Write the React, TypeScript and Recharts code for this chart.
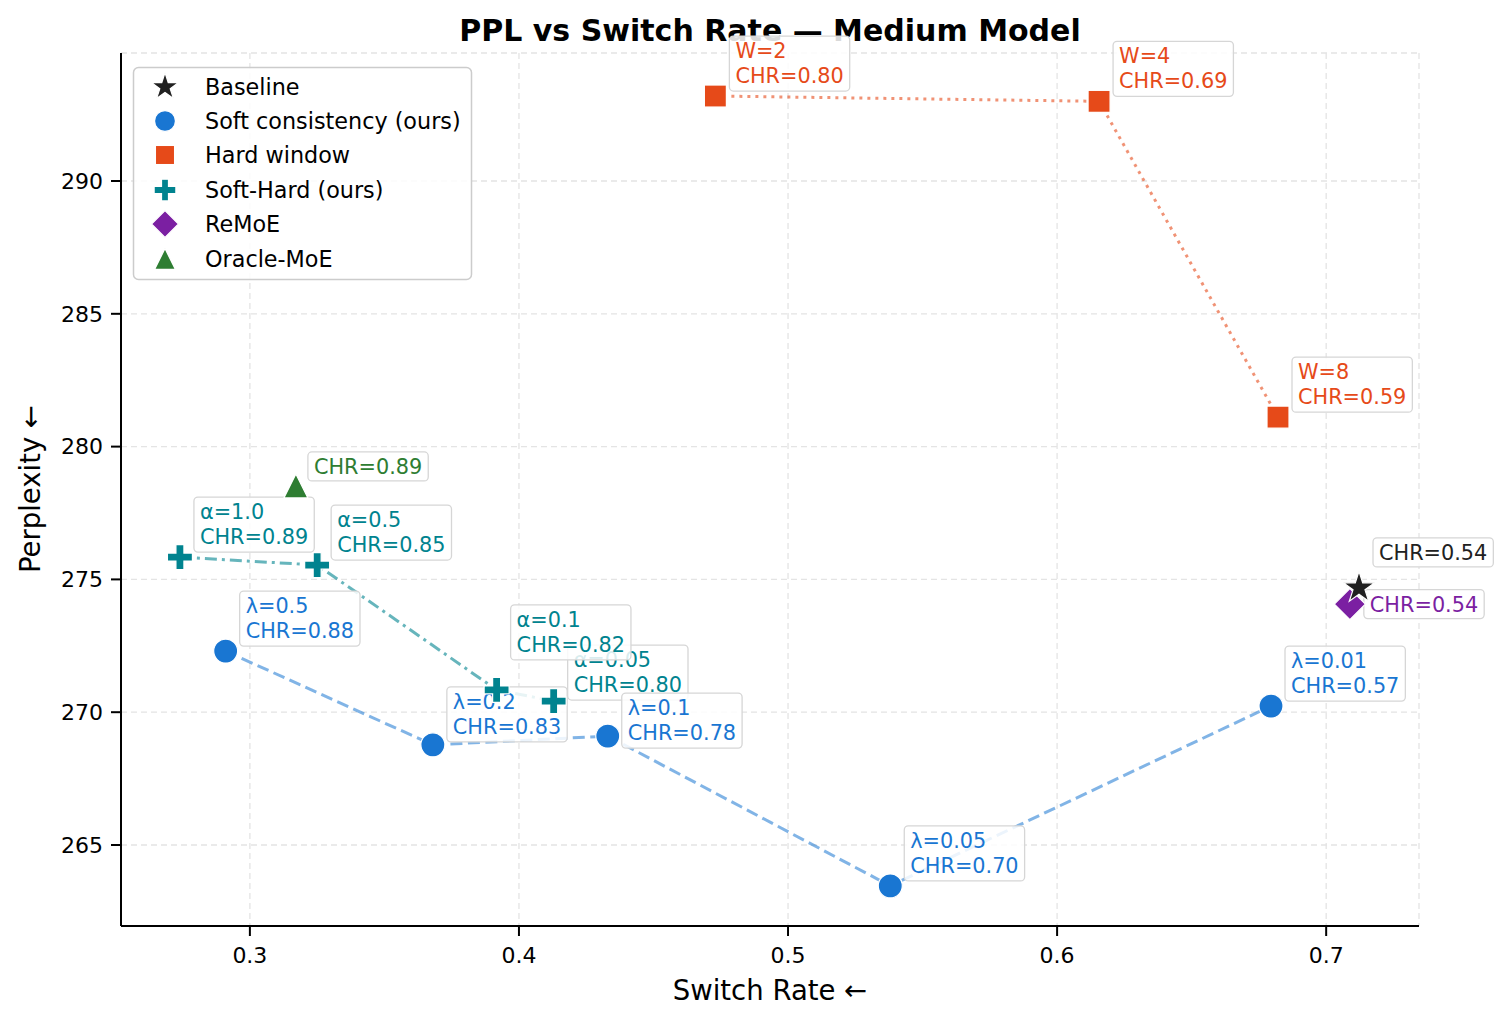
import React from 'react';
import { ScatterChart, Scatter, XAxis, YAxis, CartesianGrid } from 'recharts';

// ---------- data ----------
const softX = [0.291, 0.368, 0.433, 0.538, 0.6795];
const softY = [272.3, 268.77, 269.1, 263.46, 270.23];
const softLambda = ['0.5', '0.2', '0.1', '0.05', '0.01'];
const softCHR = ['0.88', '0.83', '0.78', '0.70', '0.57'];

const hardX = [0.473, 0.6156, 0.6821];
const hardY = [293.2, 293.0, 281.11];
const hardW = ['2', '4', '8'];
const hardCHR = ['0.80', '0.69', '0.59'];

const shX = [0.274, 0.325, 0.3917, 0.4129];
const shY = [275.84, 275.54, 270.84, 270.42];
const shAlpha = ['1.0', '0.5', '0.1', '0.05'];
const shCHR = ['0.89', '0.85', '0.82', '0.80'];

const baseX = [0.7122];
const baseY = [274.68];
const baseCHR = ['0.54'];

const remoeX = [0.7088];
const remoeY = [274.07];
const remoeCHR = ['0.54'];

const oracleX = [0.3171];
const oracleY = [278.52];
const oracleCHR = ['0.89'];

const xTicks = [0.3, 0.4, 0.5, 0.6, 0.7];
const yTicks = [265, 270, 275, 280, 285, 290];
const xDomain = [0.2521, 0.7345];
const yDomain = [261.95, 294.82];

const legendItems = ['Baseline', 'Soft consistency (ours)', 'Hard window', 'Soft-Hard (ours)', 'ReMoE', 'Oracle-MoE'];

// ---------- styles ----------
const FONT = '"DejaVu Sans", sans-serif';
const C_BLUE = '#1976D2';
const C_ORANGE = '#E64A19';
const C_TEAL = '#00838F';
const C_PURPLE = '#7B1FA2';
const C_GREEN = '#2E7D32';
const C_BLACK = '#212121';

// vertical offsets (px) of individual annotation boxes (layout only)
const labelDy: Record<string, number> = {
  'α=0.1': -30,
  'α=0.05': -1,
  'λ=0.1': 12,
  'λ=0.2': -3,
};

const softData = softX.map((x, i) => ({ x, y: softY[i], lines: [`λ=${softLambda[i]}`, `CHR=${softCHR[i]}`] }));
const hardData = hardX.map((x, i) => ({ x, y: hardY[i], lines: [`W=${hardW[i]}`, `CHR=${hardCHR[i]}`] }));
const shData = shX.map((x, i) => ({ x, y: shY[i], lines: [`α=${shAlpha[i]}`, `CHR=${shCHR[i]}`] }));
const baseData = baseX.map((x, i) => ({ x, y: baseY[i], lines: [`CHR=${baseCHR[i]}`] }));
const remoeData = remoeX.map((x, i) => ({ x, y: remoeY[i], lines: [`CHR=${remoeCHR[i]}`] }));
const oracleData = oracleX.map((x, i) => ({ x, y: oracleY[i], lines: [`CHR=${oracleCHR[i]}`] }));

let _ctx: any = null;
function measure(s: string, size: number) {
  if (!_ctx && typeof document !== 'undefined') _ctx = document.createElement('canvas').getContext('2d');
  if (!_ctx) return s.length * size * 0.62;
  _ctx.font = `${size}px "DejaVu Sans"`;
  return _ctx.measureText(s).width;
}

// ---------- marker shapes ----------
function starPath(cx: number, cy: number, R: number) {
  const r = R * 0.381966;
  let d = '';
  for (let i = 0; i < 10; i++) {
    const a = -Math.PI / 2 + (i * Math.PI) / 5;
    const rad = i % 2 === 0 ? R : r;
    d += (i ? 'L' : 'M') + (cx + rad * Math.cos(a)).toFixed(2) + ',' + (cy + rad * Math.sin(a)).toFixed(2);
  }
  return d + 'Z';
}
function plusPath(cx: number, cy: number, a: number, t: number) {
  return `M${cx - t},${cy - a}H${cx + t}V${cy - t}H${cx + a}V${cy + t}H${cx + t}V${cy + a}H${cx - t}V${cy + t}H${cx - a}V${cy - t}H${cx - t}Z`;
}

const Marker = ({ kind, cx, cy, s = 1 }: any) => {
  const edge = { stroke: '#fff', strokeWidth: 1.2 };
  switch (kind) {
    case 'star':
      return <path d={starPath(cx, cy, 16.5 * s)} fill={C_BLACK} {...edge} />;
    case 'circle':
      return <circle cx={cx} cy={cy} r={12 * s} fill={C_BLUE} {...edge} />;
    case 'square':
      return <rect x={cx - 11 * s} y={cy - 11 * s} width={22 * s} height={22 * s} fill={C_ORANGE} {...edge} />;
    case 'plus':
      return <path d={plusPath(cx, cy, 12.5 * s, 4 * s)} fill={C_TEAL} {...edge} />;
    case 'diamond': {
      const h = 15.5 * s;
      return <path d={`M${cx},${cy - h}L${cx + h},${cy}L${cx},${cy + h}L${cx - h},${cy}Z`} fill={C_PURPLE} {...edge} />;
    }
    case 'triangle': {
      const h = 12 * s;
      return <path d={`M${cx},${cy - h}L${cx + h},${cy + h}L${cx - h},${cy + h}Z`} fill={C_GREEN} {...edge} />;
    }
  }
  return <g />;
};

// ---------- annotation box ----------
const LabelBox = ({ cx, cy, lines, color, dx = 14, dy = -5, center = false }: any) => {
  const fs = 20.8;
  const pad = 6;
  const w = Math.max(...lines.map((l: string) => measure(l, fs))) + pad * 2;
  const h = 26 * lines.length + 3;
  const ddy = labelDy[lines[0]] !== undefined ? labelDy[lines[0]] : dy;
  const x = cx + dx;
  const y = center ? cy - h / 2 : cy + ddy - h;
  return (
    <g>
      <rect x={x} y={y} width={w} height={h} rx={4} ry={4} fill="#fff" fillOpacity={0.85} stroke="#d6d6d6" strokeWidth={1.3} />
      {lines.map((l: string, i: number) => (
        <text key={i} x={x + pad} y={y + 22 + i * 25} fill={color} fontSize={fs} fontFamily={FONT}>
          {l}
        </text>
      ))}
    </g>
  );
};

const noShape = () => <g />;

const mkLabel = (color: string, opts: any = {}) => (p: any) => (
  <LabelBox cx={p.cx} cy={p.cy} lines={p.payload.lines} color={color} {...opts} />
);
const mkMarker = (kind: string) => (p: any) => <Marker kind={kind} cx={p.cx} cy={p.cy} />;

const Legend = () => {
  const kinds = ['star', 'circle', 'square', 'plus', 'diamond', 'triangle'];
  const ys = [87, 121, 155, 190, 224, 259];
  return (
    <g>
      <rect x={133.5} y={67.5} width={338} height={212} rx={5} ry={5} fill="#fff" fillOpacity={0.85} stroke="#cccccc" strokeWidth={1.5} />
      {legendItems.map((t, i) => (
        <g key={t}>
          <Marker kind={kinds[i]} cx={165} cy={ys[i]} s={0.87} />
          <text x={205} y={ys[i] + 8} fontSize={22.3} fontFamily={FONT} fill="#000">
            {t}
          </text>
        </g>
      ))}
    </g>
  );
};

export default function App() {
  const tickStyle = { fontSize: 22, fontFamily: FONT, fill: '#000' };
  return (
    <div style={{ position: 'absolute', left: 0, top: 0, width: 1509, height: 1023, background: '#fff' }}>
      <ScatterChart width={1509} height={1023} margin={{ top: 53, right: 90, bottom: 47, left: 61 }}>
        <CartesianGrid stroke="#e4e4e4" strokeDasharray="6 4" strokeWidth={1.3} />
        <XAxis
          type="number"
          dataKey="x"
          domain={xDomain}
          ticks={xTicks}
          height={50}
          tick={tickStyle}
          tickFormatter={(v: number) => String(v)}
          tickSize={10}
          tickMargin={11}
          axisLine={{ stroke: '#000', strokeWidth: 2 }}
          tickLine={{ stroke: '#000', strokeWidth: 2 }}
          label={() => (
            <text x={770} y={1000} textAnchor="middle" fontSize={27.5} fontFamily={FONT} fill="#000">
              Switch Rate ←
            </text>
          )}
        />
        <YAxis
          type="number"
          dataKey="y"
          domain={yDomain}
          ticks={yTicks}
          width={60}
          tick={tickStyle}
          tickSize={10}
          tickMargin={8}
          axisLine={{ stroke: '#000', strokeWidth: 2 }}
          tickLine={{ stroke: '#000', strokeWidth: 2 }}
          label={() => (
            <text x={40} y={489} transform="rotate(-90 40 489)" textAnchor="middle" fontSize={27.5} fontFamily={FONT} fill="#000">
              Perplexity ←
            </text>
          )}
        />

        {/* connecting lines */}
        <Scatter data={softData} dataKey="y" isAnimationActive={false} shape={noShape}
          line={{ stroke: C_BLUE, strokeOpacity: 0.55, strokeWidth: 3, strokeDasharray: '12 5.5' }} />
        <Scatter data={hardData} dataKey="y" isAnimationActive={false} shape={noShape}
          line={{ stroke: C_ORANGE, strokeOpacity: 0.6, strokeWidth: 3, strokeDasharray: '3 5' }} />
        <Scatter data={shData} dataKey="y" isAnimationActive={false} shape={noShape}
          line={{ stroke: C_TEAL, strokeOpacity: 0.6, strokeWidth: 3, strokeDasharray: '12 5 3 5' }} />

        {/* annotation boxes */}
        <Scatter data={shData.slice().reverse()} dataKey="y" isAnimationActive={false} shape={mkLabel(C_TEAL)} />
        <Scatter data={softData} dataKey="y" isAnimationActive={false} shape={mkLabel(C_BLUE)} />
        <Scatter data={hardData} dataKey="y" isAnimationActive={false} shape={mkLabel(C_ORANGE)} />
        <Scatter data={oracleData} dataKey="y" isAnimationActive={false} shape={mkLabel(C_GREEN, { dx: 12 })} />
        <Scatter data={baseData} dataKey="y" isAnimationActive={false} shape={mkLabel(C_BLACK, { dy: -21 })} />
        <Scatter data={remoeData} dataKey="y" isAnimationActive={false} shape={mkLabel(C_PURPLE, { center: true })} />

        {/* markers */}
        <Scatter data={oracleData} dataKey="y" isAnimationActive={false} shape={mkMarker('triangle')} />
        <Scatter data={softData} dataKey="y" isAnimationActive={false} shape={mkMarker('circle')} />
        <Scatter data={shData} dataKey="y" isAnimationActive={false} shape={mkMarker('plus')} />
        <Scatter data={hardData} dataKey="y" isAnimationActive={false} shape={mkMarker('square')} />
        <Scatter data={remoeData} dataKey="y" isAnimationActive={false} shape={mkMarker('diamond')} />
        <Scatter data={baseData} dataKey="y" isAnimationActive={false} shape={mkMarker('star')} />

        <Legend />
        <text x={770} y={41} textAnchor="middle" fontSize={30} fontWeight="bold" fontFamily={FONT} fill="#000">
          PPL vs Switch Rate — Medium Model
        </text>
      </ScatterChart>
    </div>
  );
}
